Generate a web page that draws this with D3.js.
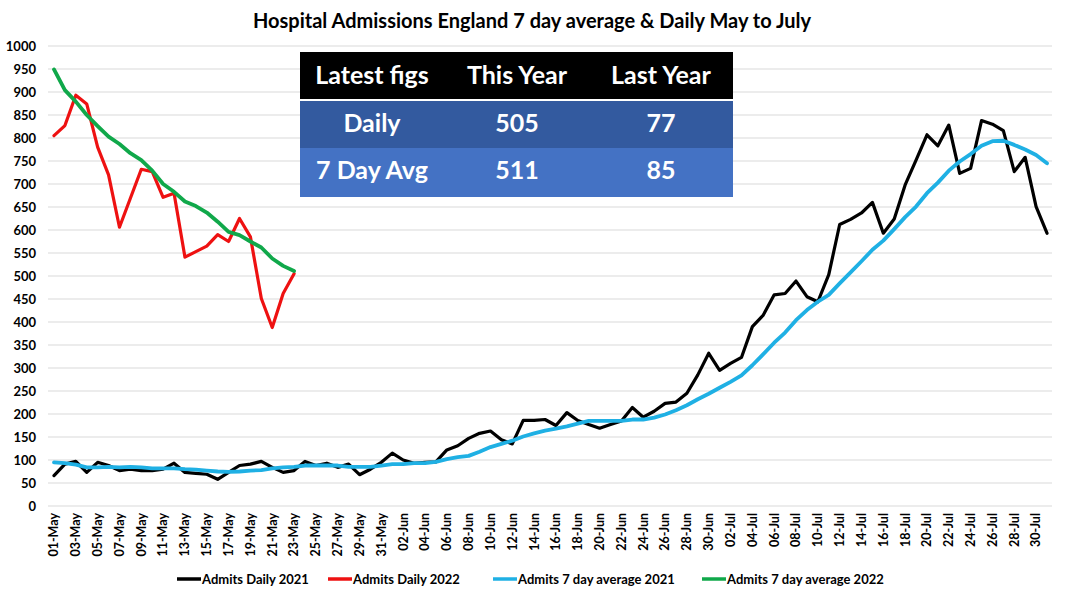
<!DOCTYPE html>
<html><head><meta charset="utf-8">
<script src="https://cdn.jsdelivr.net/npm/d3@7"></script>
<style>body{margin:0;background:#fff}svg{display:block}text{font-family:Lato,"Open Sans",sans-serif;font-weight:bold}</style>
</head><body><svg id="c" width="1065" height="600"></svg>
<script>
const dates = ["01-May","02-May","03-May","04-May","05-May","06-May","07-May","08-May","09-May","10-May","11-May","12-May","13-May","14-May","15-May","16-May","17-May","18-May","19-May","20-May","21-May","22-May","23-May","24-May","25-May","26-May","27-May","28-May","29-May","30-May","31-May",
"01-Jun","02-Jun","03-Jun","04-Jun","05-Jun","06-Jun","07-Jun","08-Jun","09-Jun","10-Jun","11-Jun","12-Jun","13-Jun","14-Jun","15-Jun","16-Jun","17-Jun","18-Jun","19-Jun","20-Jun","21-Jun","22-Jun","23-Jun","24-Jun","25-Jun","26-Jun","27-Jun","28-Jun","29-Jun","30-Jun",
"01-Jul","02-Jul","03-Jul","04-Jul","05-Jul","06-Jul","07-Jul","08-Jul","09-Jul","10-Jul","11-Jul","12-Jul","13-Jul","14-Jul","15-Jul","16-Jul","17-Jul","18-Jul","19-Jul","20-Jul","21-Jul","22-Jul","23-Jul","24-Jul","25-Jul","26-Jul","27-Jul","28-Jul","29-Jul","30-Jul","31-Jul"];

const daily2021 = [66,91,97,73,95,88,77,80,77,77,80,93,73,71,69,58,73,88,91,97,84,73,77,97,88,93,84,91,68,80,95,
115,100,93,95,96,122,131,147,158,163,144,135,186,186,188,175,203,186,177,169,177,185,214,193,206,223,226,245,285,332,
295,310,323,390,415,459,462,489,455,444,503,612,623,637,660,593,624,698,752,807,783,828,723,734,838,830,816,727,758,651,593];

const avg2021 = [95,93,90,84,84,85,84,85,84,82,82,82,80,79,77,75,74,75,77,78,82,84,85,88,88,88,88,85,85,85,88,
91,91,93,93,96,102,106,109,118,128,135,142,151,158,164,168,173,179,185,185,185,185,188,188,192,199,208,219,232,244,
257,270,284,306,330,355,377,404,426,444,459,484,508,532,557,577,602,628,651,680,703,729,749,765,783,793,794,785,775,763,745];

const daily2022 = [805,827,893,874,780,720,606,669,732,727,671,680,541,553,565,590,575,625,585,451,388,462,505];
const avg2022 = [949,904,879,850,826,803,787,767,752,729,700,683,662,652,638,618,596,589,575,562,538,522,511];

const yTicks = d3.range(0, 1001, 50);
const tableHeader = ["Latest figs","This Year","Last Year"];
const tableRows = [["Daily","505","77"],["7 Day Avg","511","85"]];
const seriesNames = ["Admits Daily 2021","Admits Daily 2022","Admits 7 day average 2021","Admits 7 day average 2022"];
const colors = ["#000000","#ee1111","#1fb0e4","#10a84a"];

const svg = d3.select("#c");
const x = d3.scalePoint().domain(dates).range([54, 1047]);
const y = d3.scaleLinear().domain([0, 1000]).range([506, 46]);

// title
svg.append("text").attr("x", 532).attr("y", 28).attr("text-anchor","middle")
  .attr("font-size", 20).text("Hospital Admissions England 7 day average & Daily May to July");

// gridlines
svg.append("g").selectAll("line").data(yTicks).join("line")
  .attr("x1", 48).attr("x2", 1052).attr("y1", d=>y(d)).attr("y2", d=>y(d))
  .attr("stroke", "#d9d9d9").attr("stroke-width", 1);

// y labels
svg.append("g").selectAll("text").data(yTicks).join("text")
  .attr("x", 36).attr("y", d=>y(d)).attr("dy","0.35em").attr("text-anchor","end")
  .attr("font-size", 13).text(d=>d);

// x labels
svg.append("g").selectAll("text").data(dates.filter((d,i)=>i%2===0)).join("text")
  .attr("transform", d=>`translate(${x(d)},513) rotate(-90)`)
  .attr("dy","0.35em").attr("text-anchor","end").attr("font-size", 12.5).text(d=>d);

// lines
const line = d3.line().x((d,i)=>x(dates[i])).y(d=>y(d));
const series = [daily2021, daily2022, avg2021, avg2022];
[0,1,2,3].forEach(k=>{
  svg.append("path").datum(series[k]).attr("d", line).attr("fill","none")
    .attr("stroke", colors[k]).attr("stroke-width", k>=2?3.8:3.2).attr("stroke-linejoin","round").attr("stroke-linecap","round");
});

// table
const tx = 300, tw = 433, colC = [372, 517, 661];
const tg = svg.append("g");
tg.append("rect").attr("x",tx).attr("y",52).attr("width",tw).attr("height",47).attr("fill","#000");
tg.append("rect").attr("x",tx).attr("y",101).attr("width",tw).attr("height",47).attr("fill","#335a9f");
tg.append("rect").attr("x",tx).attr("y",148).attr("width",tw).attr("height",49).attr("fill","#4472c4");
tableHeader.forEach((t,i)=>tg.append("text").attr("x",colC[i]).attr("y",75.5).attr("dy","0.35em")
  .attr("text-anchor","middle").attr("fill","#fff").attr("font-size",25).text(t));
tableRows.forEach((r,j)=>r.forEach((t,i)=>tg.append("text").attr("x",colC[i]).attr("y",[123,170][j]).attr("dy","0.35em")
  .attr("text-anchor","middle").attr("fill","#fff").attr("font-size",25).text(t)));

// legend
const legX = [177, 328, 493, 702];
const lg = svg.append("g");
seriesNames.forEach((n,i)=>{
  lg.append("line").attr("x1",legX[i]).attr("x2",legX[i]+24).attr("y1",579).attr("y2",579)
    .attr("stroke",colors[i]).attr("stroke-width",3.5);
  lg.append("text").attr("x",legX[i]+25).attr("y",579).attr("dy","0.35em").attr("font-size",13).text(n);
});
</script></body></html>
